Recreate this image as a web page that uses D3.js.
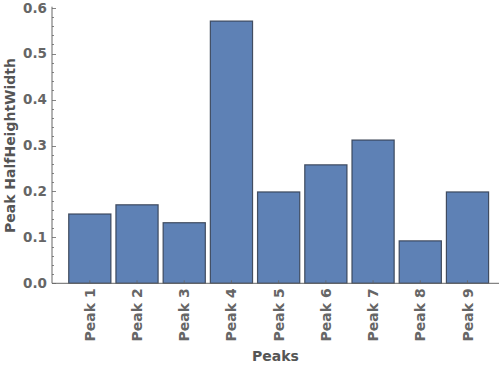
<!DOCTYPE html>
<html>
<head>
<meta charset="utf-8">
<script src="https://cdn.jsdelivr.net/npm/d3@7"></script>
<style>
  body { margin: 0; background: #fff; }
  text { font-family: "DejaVu Sans", sans-serif; font-weight: bold; }
</style>
</head>
<body>
<div id="chart"></div>
<script>
const categories = ["Peak 1", "Peak 2", "Peak 3", "Peak 4", "Peak 5", "Peak 6", "Peak 7", "Peak 8", "Peak 9"];
const halfWidths = [0.152, 0.172, 0.133, 0.572, 0.200, 0.259, 0.313, 0.0935, 0.200];
const yTicks = [0, 0.1, 0.2, 0.3, 0.4, 0.5, 0.6];

const width = 500, height = 366;
const axisX0 = 52, axisX1 = 499;
const y0 = 283.3, y1 = 7.7;

const svg = d3.select("#chart")
  .append("svg")
  .attr("width", width)
  .attr("height", height);

const x = d3.scaleBand()
  .domain(categories)
  .range([66.2, 491.1])
  .paddingInner(0.085)
  .paddingOuter(0.0425);

const y = d3.scaleLinear()
  .domain([0, 0.6])
  .range([y0, y1]);

const axisColor = "#666";

// bars
svg.append("g")
  .selectAll("rect")
  .data(halfWidths)
  .enter()
  .append("rect")
  .attr("x", (d, i) => x(categories[i]) + 0.5)
  .attr("y", d => y(d) + 0.5)
  .attr("width", x.bandwidth() - 1)
  .attr("height", d => y0 - y(d) - 0.5)
  .attr("fill", "#5e81b5")
  .attr("stroke", "#2f3a4c")
  .attr("stroke-opacity", 0.85)
  .attr("stroke-width", 1.2);

// y axis
const yAxis = svg.append("g");
yAxis.append("line")
  .attr("x1", axisX0).attr("x2", axisX0)
  .attr("y1", y1 - 1).attr("y2", y0)
  .attr("stroke", axisColor);

const minor = d3.range(0, 0.6001, 0.02);
yAxis.selectAll(".minor")
  .data(minor)
  .enter()
  .append("line")
  .attr("x1", axisX0)
  .attr("x2", (d, i) => axisX0 + (i % 5 === 0 ? 4 : 2))
  .attr("y1", d => Math.round(y(d)) + 0.5)
  .attr("y2", d => Math.round(y(d)) + 0.5)
  .attr("stroke", axisColor)
  .attr("stroke-width", 0.8);

yAxis.selectAll(".tl")
  .data(yTicks)
  .enter()
  .append("text")
  .attr("x", axisX0 - 5)
  .attr("y", d => y(d))
  .attr("dy", "0.36em")
  .attr("text-anchor", "end")
  .attr("font-size", 13.5)
  .attr("fill", axisColor)
  .text(d => d3.format(".1f")(d));

// x axis
const xAxis = svg.append("g");
xAxis.append("line")
  .attr("x1", axisX0).attr("x2", axisX1)
  .attr("y1", y0).attr("y2", y0)
  .attr("stroke", axisColor);

xAxis.selectAll(".tk")
  .data(categories)
  .enter()
  .append("line")
  .attr("x1", d => x(d) + x.bandwidth() / 2)
  .attr("x2", d => x(d) + x.bandwidth() / 2)
  .attr("y1", y0)
  .attr("y2", y0 - 3)
  .attr("stroke", axisColor)
  .attr("stroke-width", 0.8);

xAxis.selectAll(".xl")
  .data(categories)
  .enter()
  .append("text")
  .attr("transform", d => `translate(${x(d) + x.bandwidth() / 2},${y0 + 5}) rotate(-90)`)
  .attr("dy", "0.36em")
  .attr("text-anchor", "end")
  .attr("font-size", 14)
  .attr("fill", axisColor)
  .text(d => d);

// axis titles
svg.append("text")
  .attr("x", (axisX0 + axisX1) / 2)
  .attr("y", 361)
  .attr("text-anchor", "middle")
  .attr("font-size", 14)
  .attr("fill", "#555")
  .text("Peaks");

svg.append("text")
  .attr("transform", `translate(15,${(y0 + y1) / 2}) rotate(-90)`)
  .attr("text-anchor", "middle")
  .attr("font-size", 14)
  .attr("fill", "#555")
  .text("Peak HalfHeightWidth");
</script>
</body>
</html>
